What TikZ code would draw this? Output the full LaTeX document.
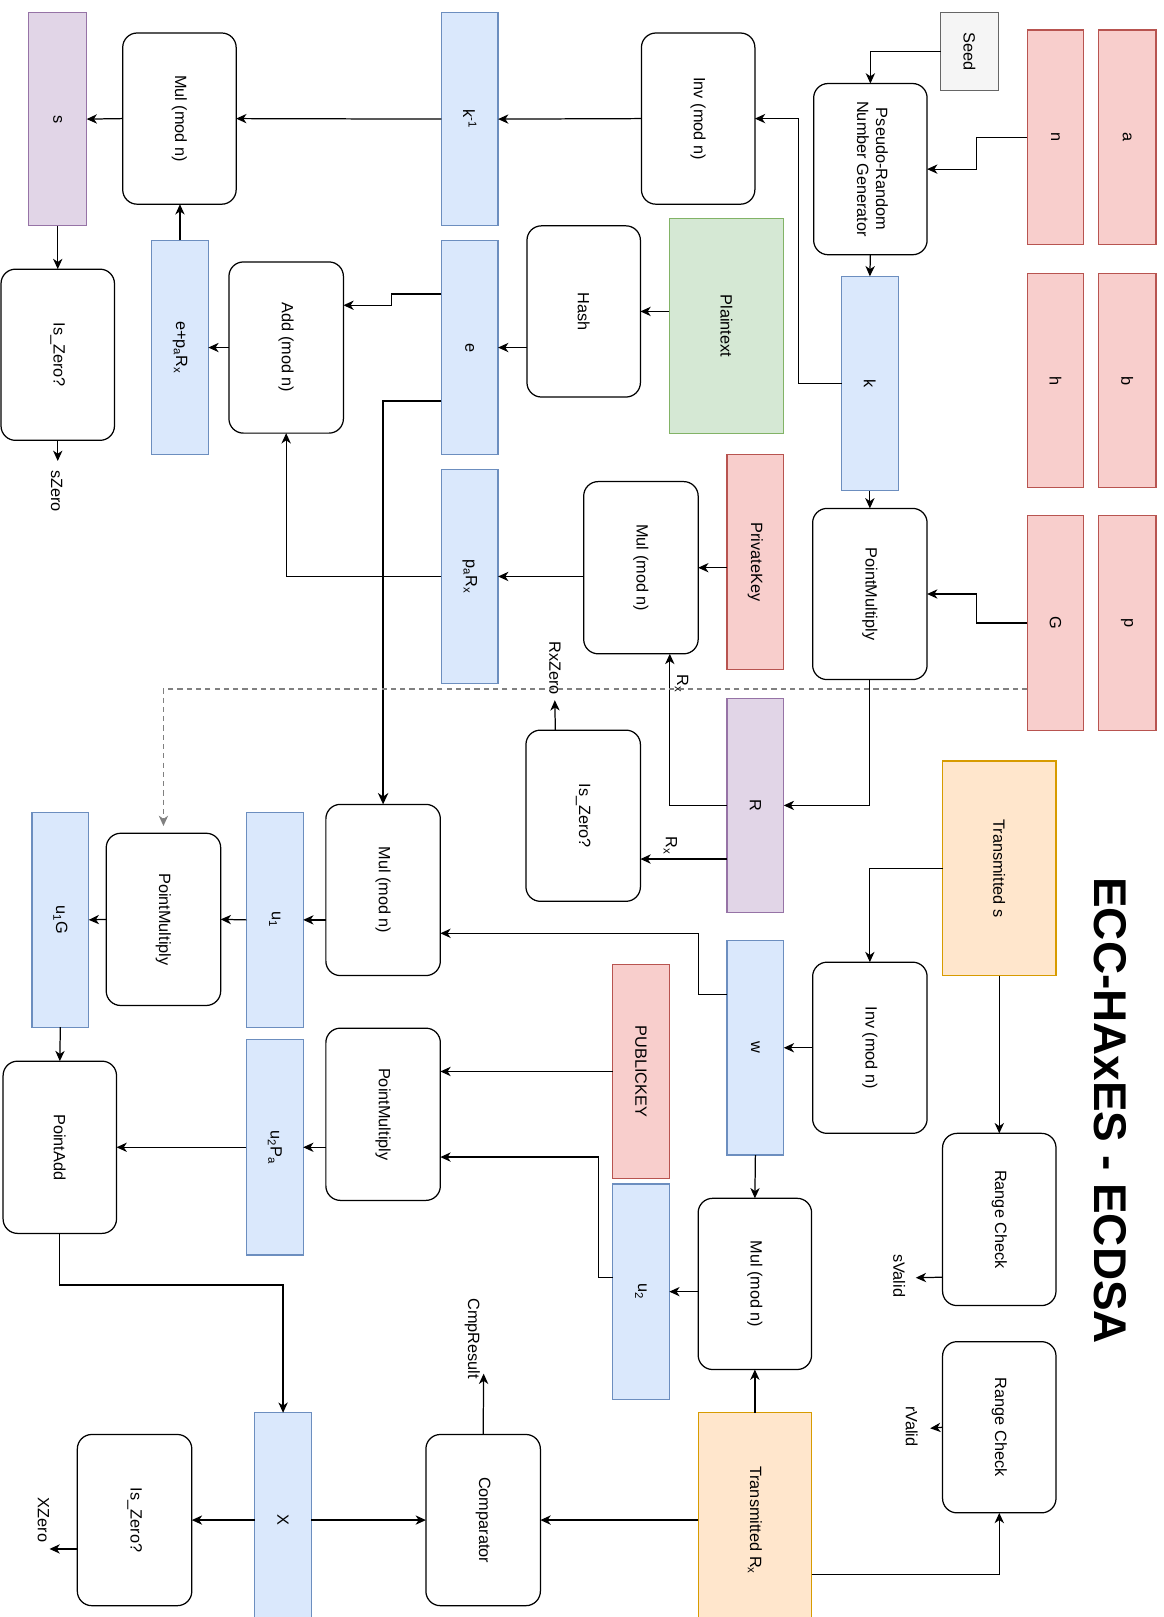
\documentclass[tikz,border=0pt]{standalone}
\usepackage{fontspec}
\setmainfont{Liberation Sans}
\usepackage{graphicx}
\usetikzlibrary{arrows.meta}

\definecolor{bluefill}{HTML}{DAE8FC}\definecolor{blueline}{HTML}{6C8EBF}
\definecolor{redfill}{HTML}{F8CECC}\definecolor{redline}{HTML}{B85450}
\definecolor{greenfill}{HTML}{D5E8D4}\definecolor{greenline}{HTML}{82B366}
\definecolor{purplefill}{HTML}{E1D5E7}\definecolor{purpleline}{HTML}{9673A6}
\definecolor{orangefill}{HTML}{FFE6CC}\definecolor{orangeline}{HTML}{D79B00}
\definecolor{grayfill}{HTML}{F5F5F5}\definecolor{grayline}{HTML}{666666}
\definecolor{dashgray}{HTML}{808080}

\tikzset{
  base/.style={draw, inner sep=0pt, outer sep=0pt, line width=1.2pt,
    font=\fontsize{15.8}{18.5}\selectfont},
  op/.style={base, fill=white, draw=black, rounded corners=14pt},
  var/.style={base, fill=bluefill, draw=blueline},
  param/.style={base, fill=redfill, draw=redline},
  msg/.style={base, fill=greenfill, draw=greenline},
  result/.style={base, fill=purplefill, draw=purpleline},
  given/.style={base, fill=orangefill, draw=orangeline},
  seedbox/.style={base, fill=grayfill, draw=grayline},
  lbl/.style={inner sep=0pt, font=\fontsize{15.8}{18.5}\selectfont},
  arr/.style={line width=1.2pt, -{Stealth[length=10pt,width=9pt,inset=3pt]}},
  thickarr/.style={line width=2.2pt, -{Stealth[length=11pt,width=10pt,inset=3.5pt]}},
  dasharr/.style={line width=1.2pt, draw=dashgray, dash pattern=on 5pt off 4pt,
    -{Stealth[length=10pt,width=9pt,inset=3pt]}},
}

% block: style, left, top, right, bottom, name, text (text reads top to bottom)
\newcommand{\blk}[7]{\node[#1, minimum width={#4-#2}, minimum height={#5-#3}]
  (#6) at ({(#2+#4)/2},{(#3+#5)/2}) {\rotatebox{-90}{#7}};}

\begin{document}
\begin{tikzpicture}[x=1pt,y=-1pt]
\useasboundingbox (0,0) rectangle (1128,1568);
\clip (0,0) rectangle (1128,1568);

% curve parameters
\blk{param}{1065}{29}{1121}{237}{a}{a}
\blk{param}{996}{29}{1051}{237}{n}{n}
\blk{param}{1065}{265}{1121}{473}{b}{b}
\blk{param}{996}{265}{1051}{473}{h}{h}
\blk{param}{1065}{500}{1121}{708}{p}{p}
\blk{param}{996}{500}{1051}{708}{G}{G}

% signing
\blk{seedbox}{912}{12}{968}{88}{seed}{Seed}
\blk{op}{789}{81}{899}{247}{prng}{\begin{tabular}{@{}c@{}}Pseudo-Random\\Number Generator\end{tabular}}
\blk{var}{816}{268}{871}{476}{k}{k}
\blk{op}{788}{493}{899}{659}{pmA}{PointMultiply}
\blk{msg}{649}{212}{760}{420}{plain}{Plaintext}
\blk{param}{705}{441}{760}{649}{priv}{PrivateKey}
\blk{result}{705}{677}{760}{885}{R}{R}
\blk{op}{622}{32}{732}{198}{invA}{Inv (mod n)}
\blk{op}{511}{219}{621}{385}{hash}{Hash}
\blk{op}{566}{467}{677}{634}{mulB}{Mul (mod n)}
\blk{op}{510}{708}{621}{874}{iszB}{Is\_Zero?}
\blk{var}{428}{12}{483}{219}{kinv}{k\textsuperscript{-1}}
\blk{var}{428}{233}{483}{441}{e}{e}
\blk{var}{428}{455}{483}{663}{parx}{p\textsubscript{a}R\textsubscript{x}}
\blk{op}{119}{32}{229}{198}{mulA}{Mul (mod n)}
\blk{result}{28}{12}{84}{219}{s}{s}
\blk{var}{147}{233}{202}{441}{eparx}{e+p\textsubscript{a}R\textsubscript{x}}
\blk{op}{222}{254}{333}{420}{add}{Add (mod n)}
\blk{op}{1}{261}{111}{427}{iszA}{Is\_Zero?}

% verification
\node[font=\bfseries\fontsize{44.5}{48}\selectfont, inner sep=0pt] (title) at (1077,1077)
  {\rotatebox{-90}{ECC-HAxES - ECDSA}};
\blk{given}{914}{738}{1024}{946}{ts}{Transmitted s}
\blk{op}{788}{933}{899}{1099}{invB}{Inv (mod n)}
\blk{var}{705}{912}{760}{1120}{w}{w}
\blk{param}{594}{935}{649}{1143}{pub}{PUBLICKEY}
\blk{op}{316}{780}{427}{946}{mulC}{Mul (mod n)}
\blk{var}{239}{788}{294}{996}{uone}{u\textsubscript{1}}
\blk{op}{103}{808}{214}{975}{pmB}{PointMultiply}
\blk{var}{31}{788}{86}{996}{uoneG}{u\textsubscript{1}G}
\blk{op}{316}{997}{427}{1164}{pmC}{PointMultiply}
\blk{var}{239}{1008}{294}{1217}{utwoP}{u\textsubscript{2}P\textsubscript{a}}
\blk{op}{3}{1029}{113}{1196}{padd}{PointAdd}
\blk{op}{914}{1099}{1024}{1266}{rcA}{Range Check}
\blk{op}{914}{1301}{1024}{1467}{rcB}{Range Check}
\blk{op}{677}{1162}{787}{1328}{mulD}{Mul (mod n)}
\blk{var}{594}{1148}{649}{1357}{utwo}{u\textsubscript{2}}
\blk{given}{677}{1370}{787}{1578}{trx}{Transmitted R\textsubscript{x}}
\blk{var}{247}{1370}{302}{1578}{X}{X}
\blk{op}{413}{1391}{524}{1557}{cmp}{Comparator}
\blk{op}{75}{1391}{186}{1557}{iszC}{Is\_Zero?}

% output labels
\node[lbl] (szero) at (55,476) {\rotatebox{-90}{sZero}};
\node[lbl] (rxzero) at (538,648) {\rotatebox{-90}{RxZero}};
\node[lbl] (cmpres) at (458,1298) {\rotatebox{-90}{CmpResult}};
\node[lbl] (xzero) at (42,1474) {\rotatebox{-90}{XZero}};
\node[lbl] (svalid) at (872,1237) {\rotatebox{-90}{sValid}};
\node[lbl] (rvalid) at (884,1383) {\rotatebox{-90}{rValid}};
\node[lbl] (rxA) at (661,663) {\rotatebox{-90}{R\textsubscript{x}}};
\node[lbl] (rxB) at (650,820) {\rotatebox{-90}{R\textsubscript{x}}};
\coordinate (szeroIn) at (56,447);
\coordinate (rxzeroIn) at (538,679);
\coordinate (cmpIn) at (469,1332);
\coordinate (xzeroIn) at (48,1502);
\coordinate (svalidIn) at (888,1239);
\coordinate (rvalidIn) at (902,1385);

% signing connectors
\draw[arr] (seed.west) -| (prng.north);
\draw[arr] (n.west) -- ++(-49,0) |- (prng.east);
\draw[arr] (prng.south) -- (k.north);
\draw[arr] (k.west) -- ++(-42,0) |- (invA.east);
\draw[arr] (k.south) -- (pmA.north);
\draw[arr] (G.west) -- ++(-49,0) |- (pmA.east);
\draw[arr] (pmA.south) |- (R.east);
\draw[arr] (R.west) -| ([xshift=28pt]mulB.south);
\draw[arr] ([yshift=-52pt]R.west) -- ([yshift=-52pt]R.west -| iszB.east);
\draw[arr] ([xshift=-27pt]iszB.north) -- (rxzeroIn);
\draw[arr] (priv.west |- mulB.east) -- (mulB.east);
\draw[arr] (mulB.west |- parx.east) -- (parx.east);
\draw[arr] (parx.west) -| (add.south);
\draw[arr] (plain.west |- hash.east) -- (hash.east);
\draw[arr] (hash.west |- e.east) -- (e.east);
\draw[arr] ([yshift=52pt]e.west) -- ++(-48,0) |- ([yshift=41pt]add.east);
\draw[thickarr] ([yshift=-52pt]e.west) -| (mulC.north);
\draw[arr] (add.west) -- (eparx.east);
\draw[arr] (eparx.north) -- (eparx.north |- mulA.south);
\draw[arr] (invA.west) -- (kinv.east);
\draw[arr] (kinv.west) -- (mulA.east);
\draw[arr] (mulA.west) -- (s.east);
\draw[arr] (s.south) -- (iszA.north);
\draw[arr] (iszA.south) -- (szeroIn);
\draw[dasharr] ([yshift=-64pt]G.west) -| ([yshift=7pt]pmB.north);

% verification connectors
\draw[arr] (ts.west) -| (invB.north);
\draw[arr] (ts.south) -- (rcA.north);
\draw[arr] ([yshift=-56pt]rcA.west) -- (svalidIn);
\draw[arr] (invB.west) -- (w.east);
\draw[arr] ([yshift=52pt]w.west) -- ++(-28,0) |- ([yshift=-42pt]mulC.east);
\draw[arr] (w.south) -- (mulD.north);
\draw[arr] (mulD.west |- utwo.east) -- (utwo.east);
\draw[arr] ([yshift=14pt]utwo.west) -- ++(-14,0) |- ([yshift=-41.5pt]pmC.east);
\draw[arr] (pub.west) -- (pub.west -| pmC.east);
\draw[arr] (mulC.west |- uone.east) -- (uone.east);
\draw[arr] (uone.west) -- (pmB.east);
\draw[arr] (pmB.west) -- (uoneG.east);
\draw[arr] (uoneG.south) -- (padd.north);
\draw[arr] (pmC.west |- utwoP.east) -- (utwoP.east);
\draw[arr] (utwoP.west) -- (padd.east);
\draw[arr] (padd.south) -- ++(0,50) -| (X.north);
\draw[arr] (X.west) -- (iszC.east);
\draw[arr] (X.east) -- (cmp.west);
\draw[arr] (trx.west) -- (cmp.east);
\draw[arr] (trx.north) -- (mulD.south);
\draw[arr] ([yshift=-53pt]trx.east) -| (rcB.south);
\draw[arr] (rcB.west) -- (rvalidIn);
\draw[arr] (cmp.north) -- (cmpIn);
\draw[arr] ([yshift=-28pt]iszC.west) -- (xzeroIn);
\end{tikzpicture}
\end{document}
